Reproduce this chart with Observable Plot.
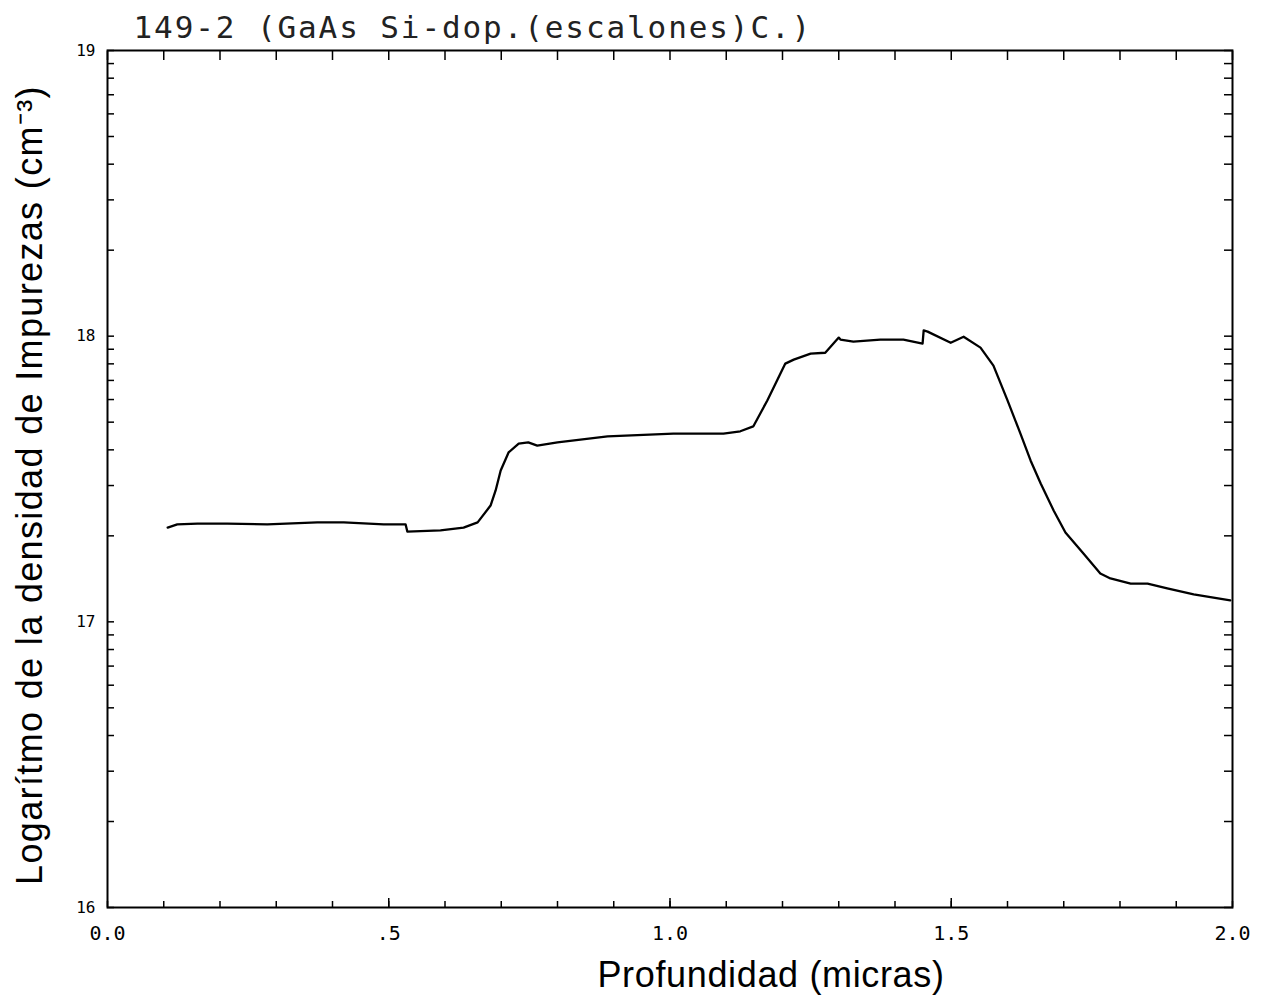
<!DOCTYPE html>
<html>
<head>
<meta charset="utf-8">
<script src="https://cdn.jsdelivr.net/npm/d3@7"></script>
<script src="https://cdn.jsdelivr.net/npm/@observablehq/plot@0.6"></script>
<style>
  html, body { margin: 0; padding: 0; background: white; }
</style>
</head>
<body>
<div id="chart"></div>
<script>
// Profile data: depth (micras) vs log10 impurity density (cm^-3)
const depth = [0.107, 0.124, 0.160, 0.213, 0.284, 0.373, 0.420, 0.491, 0.530, 0.533,
  0.592, 0.633, 0.658, 0.681, 0.690, 0.699, 0.713, 0.731, 0.748, 0.764,
  0.800, 0.889, 1.006, 1.095, 1.125, 1.148, 1.173, 1.205, 1.220, 1.250,
  1.276, 1.300, 1.303, 1.326, 1.374, 1.415, 1.449, 1.451, 1.458, 1.499,
  1.522, 1.552, 1.575, 1.600, 1.623, 1.641, 1.659, 1.682, 1.703, 1.735,
  1.765, 1.783, 1.819, 1.849, 1.884, 1.931, 1.996];
const logN = [17.330, 17.341, 17.344, 17.344, 17.341, 17.348, 17.348, 17.341, 17.341, 17.316,
  17.320, 17.330, 17.348, 17.407, 17.460, 17.530, 17.593, 17.624, 17.628, 17.617,
  17.628, 17.649, 17.659, 17.659, 17.667, 17.684, 17.775, 17.904, 17.918, 17.939,
  17.942, 17.995, 17.988, 17.981, 17.988, 17.988, 17.974, 18.020, 18.016, 17.977,
  17.998, 17.960, 17.897, 17.775, 17.659, 17.565, 17.484, 17.390, 17.313, 17.239,
  17.169, 17.152, 17.134, 17.134, 17.117, 17.096, 17.075];

const titleText = "149-2 (GaAs Si-dop.(escalones)C.)";
const xLabelText = "Profundidad (micras)";
const yLabelText = "Logarítmo de la densidad de Impurezas (cm\u207B\u00B3)";

const xTickValues = [0, 0.5, 1.0, 1.5, 2.0];
const xTickLabels = ["0.0", ".5", "1.0", "1.5", "2.0"];
const yTickValues = [16, 17, 18, 19];
const yTickLabels = ["16", "17", "18", "19"];

const data = depth.map((x, i) => ({x, y: logN[i]}));

// tick positions
const xMinor = d3.range(0, 21).map(i => i / 10);
const xHalf = [0.5, 1.0, 1.5];
const yLogTicks = [];
for (const dec of [16, 17, 18]) for (let k = 1; k <= 9; k++) yLogTicks.push(dec + Math.log10(k));
yLogTicks.push(19);

const mono = "DejaVu Sans Mono";
const sans = "Liberation Sans";

const chart = Plot.plot({
  width: 1270,
  height: 1000,
  marginLeft: 107,
  marginRight: 38,
  marginTop: 50,
  marginBottom: 93,
  x: {domain: [0, 2], label: null},
  y: {domain: [16, 19], label: null},
  style: {background: "white", color: "black"},
  marks: [
    Plot.frame({stroke: "black", strokeWidth: 2}),
    // inward ticks
    Plot.axisX(xMinor, {anchor: "bottom", tickSize: -6, tickFormat: () => "", strokeWidth: 1.5, label: null}),
    Plot.axisX(xHalf, {anchor: "bottom", tickSize: -9, tickFormat: () => "", strokeWidth: 1.5, label: null}),
    Plot.axisX(xMinor, {anchor: "top", tickSize: -9, tickFormat: () => "", strokeWidth: 1.5, label: null}),
    Plot.axisY(yLogTicks, {anchor: "left", tickSize: -7, tickFormat: () => "", strokeWidth: 1.5, label: null}),
    Plot.axisY(yLogTicks, {anchor: "right", tickSize: -9, tickFormat: () => "", strokeWidth: 1.5, label: null}),
    // tick labels
    Plot.axisX(xTickValues, {anchor: "bottom", tickSize: 0, tickPadding: 18,
      tickFormat: d => xTickLabels[xTickValues.indexOf(d)], fontSize: 20, fontFamily: mono, label: null}),
    Plot.axisY(yTickValues, {anchor: "left", tickSize: 0, tickPadding: 12,
      tickFormat: d => yTickLabels[yTickValues.indexOf(d)], fontSize: 16, fontFamily: mono, label: null}),
    // data line
    Plot.line(data, {x: "x", y: "y", stroke: "black", strokeWidth: 2.3}),
    // titles
    Plot.text([titleText], {frameAnchor: "top-left", text: d => d, dx: 26, dy: -22,
      textAnchor: "start", lineAnchor: "middle", fontSize: 31, fontFamily: mono, fill: "#222"}),
    Plot.text([xLabelText], {frameAnchor: "bottom", text: d => d, dx: 101, dy: 68,
      textAnchor: "middle", lineAnchor: "middle", fontSize: 36, fontFamily: sans}),
    Plot.text([yLabelText], {frameAnchor: "left", text: d => d, dx: -77, dy: 6, rotate: -90,
      textAnchor: "middle", lineAnchor: "middle", fontSize: 36, fontFamily: sans})
  ]
});
const spacing = new Map([[titleText, "1.9px"], [xLabelText, "0.65px"], [yLabelText, "1.35px"]]);
chart.querySelectorAll("text").forEach(t => {
  const s = spacing.get(t.textContent);
  if (s) t.setAttribute("letter-spacing", s);
});
document.getElementById("chart").appendChild(chart);
</script>
</body>
</html>
